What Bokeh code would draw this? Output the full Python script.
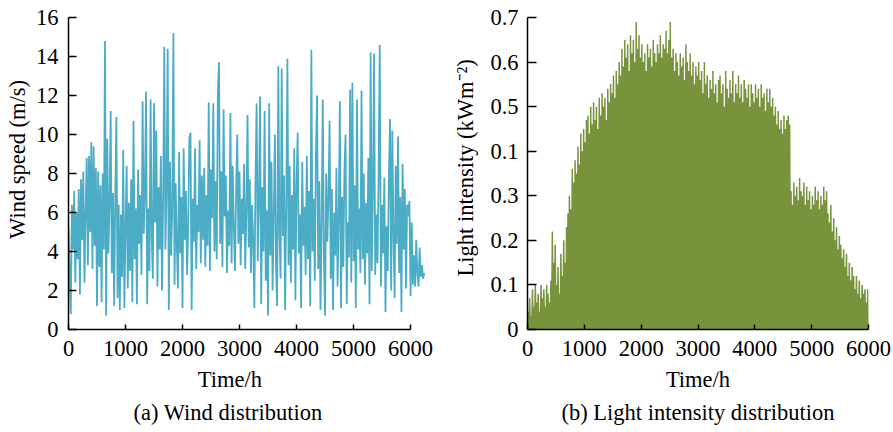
from bokeh.plotting import figure
from bokeh.layouts import row
from bokeh.models import FixedTicker
from bokeh.embed import file_html
from bokeh.resources import INLINE
import numpy as np

# ---------------- data ----------------
WIND_STEP_H = 20  # hours between wind samples
wind_speed = [
    5.2, 3.0, 0.8, 6.4, 4.1, 7.1, 2.4, 6.0, 3.6, 7.2,
    1.8, 7.7, 4.6, 8.1, 2.4, 6.0, 8.8, 3.3, 8.9, 5.0,
    9.6, 3.1, 9.4, 4.3, 8.3, 1.2, 8.1, 3.2, 7.4, 1.4,
    8.0, 4.1, 14.8, 0.7, 9.8, 3.9, 6.5, 11.2, 2.9, 7.0,
    1.2, 6.8, 10.9, 1.6, 6.4, 1.0, 5.9, 2.7, 9.2, 1.1,
    5.1, 8.4, 2.1, 6.5, 3.0, 7.7, 1.4, 10.7, 3.6, 6.2,
    1.3, 8.2, 4.4, 6.9, 2.8, 11.7, 4.9, 7.0, 12.2, 1.3,
    6.2, 3.0, 11.8, 4.7, 2.6, 11.6, 5.5, 10.2, 2.2, 7.3,
    4.1, 8.9, 2.0, 6.6, 14.5, 4.1, 7.3, 14.4, 1.0, 8.6,
    3.8, 6.2, 15.2, 2.3, 7.5, 4.4, 2.1, 9.1, 3.9, 6.8,
    1.1, 9.3, 4.6, 7.1, 2.8, 5.3, 9.8, 10.1, 1.0, 6.7,
    4.5, 9.3, 3.1, 6.4, 5.0, 9.7, 3.4, 7.9, 4.6, 8.3,
    3.2, 6.9, 4.3, 11.65, 3.0, 8.2, 5.7, 11.6, 4.0, 7.6,
    3.6, 12.1, 13.7, 4.4, 8.1, 3.2, 11.3, 5.8, 7.9, 2.9,
    6.1, 4.3, 11.1, 3.4, 8.4, 5.2, 3.0, 7.0, 10.0, 4.4,
    8.1, 3.3, 6.7, 4.9, 8.5, 3.1, 6.0, 11.0, 4.2, 7.7,
    2.9, 6.4, 4.6, 1.1, 7.7, 11.6, 3.5, 6.6, 11.95, 1.3,
    7.3, 4.0, 11.2, 2.5, 6.1, 0.7, 11.6, 3.8, 8.6, 2.0,
    5.9, 10.0, 3.2, 1.2, 13.5, 5.1, 2.6, 13.4, 4.8, 7.9,
    1.0, 6.5, 13.9, 3.3, 8.4, 2.4, 6.9, 4.1, 9.3, 1.5,
    7.4, 10.1, 3.9, 5.9, 1.1, 8.6, 4.3, 6.3, 2.8, 8.9,
    3.6, 7.1, 1.2, 14.35, 4.0, 6.7, 2.5, 9.0, 12.0, 3.1,
    7.6, 1.0, 5.3, 11.8, 3.7, 0.7, 8.0, 4.5, 6.9, 10.7,
    2.6, 7.2, 1.0, 6.0, 3.8, 8.3, 2.2, 5.6, 11.7, 1.1,
    6.8, 3.2, 8.1, 10.0, 1.3, 5.5, 3.7, 12.3, 2.4, 12.65,
    3.5, 7.4, 1.1, 11.8, 4.1, 6.2, 2.9, 12.25, 3.6, 8.0,
    2.3, 6.5, 3.9, 8.8, 1.3, 14.2, 3.0, 7.1, 14.15, 2.8,
    5.9, 3.4, 8.0, 14.6, 2.2, 6.4, 3.9, 7.8, 0.9, 5.3,
    3.0, 7.7, 10.8, 2.0, 10.2, 4.9, 1.6, 8.4, 4.4, 9.9,
    2.9, 6.8, 0.9, 8.5, 4.1, 7.2, 2.1, 6.4, 5.8, 6.6,
    1.7, 5.5, 2.3, 3.8, 2.2, 4.6, 2.9, 2.2, 4.2, 2.7,
    3.3, 2.6, 2.9,
]

LIGHT_STEP_H = 25  # hours per daylight cycle in the plotted series
light_peaks = [
    0.04, 0.07, 0.03, 0.09, 0.05, 0.10, 0.06, 0.08, 0.04, 0.10,
    0.07, 0.09, 0.05, 0.10, 0.08, 0.06, 0.11, 0.22, 0.15, 0.19,
    0.10, 0.14, 0.08, 0.17, 0.12, 0.20, 0.15, 0.23, 0.26, 0.30,
    0.27, 0.36, 0.33, 0.38, 0.35, 0.41, 0.37, 0.44, 0.40, 0.45,
    0.42, 0.47, 0.48, 0.44, 0.50, 0.46, 0.51, 0.47, 0.50, 0.45,
    0.52, 0.48, 0.53, 0.50, 0.52, 0.47, 0.54, 0.51, 0.55, 0.53,
    0.57, 0.52, 0.58, 0.55, 0.60, 0.57, 0.63, 0.59, 0.65, 0.61,
    0.64, 0.58, 0.66, 0.62, 0.65, 0.60, 0.69, 0.63, 0.66, 0.61,
    0.64, 0.60, 0.62, 0.58, 0.64, 0.61, 0.63, 0.59, 0.65, 0.62,
    0.60, 0.64, 0.62, 0.66, 0.61, 0.64, 0.63, 0.67, 0.62, 0.65,
    0.69, 0.61, 0.63, 0.58, 0.62, 0.60, 0.57, 0.62, 0.59, 0.61,
    0.56, 0.64, 0.60, 0.58, 0.62, 0.57, 0.60, 0.55, 0.59, 0.57,
    0.60, 0.56, 0.58, 0.53, 0.60, 0.55, 0.57, 0.52, 0.56, 0.54,
    0.58, 0.53, 0.55, 0.51, 0.56, 0.57, 0.53, 0.55, 0.50, 0.58,
    0.54, 0.52, 0.56, 0.53, 0.58, 0.51, 0.55, 0.53, 0.57, 0.52,
    0.55, 0.51, 0.56, 0.54, 0.52, 0.55, 0.50, 0.55, 0.53, 0.51,
    0.55, 0.52, 0.54, 0.50, 0.55, 0.52, 0.53, 0.49, 0.54, 0.51,
    0.54, 0.50, 0.52, 0.48, 0.50, 0.46, 0.49, 0.45, 0.47, 0.44,
    0.48, 0.45, 0.47, 0.48, 0.46, 0.31, 0.28, 0.33, 0.30, 0.32,
    0.29, 0.34, 0.31, 0.30, 0.33, 0.28, 0.32, 0.29, 0.31, 0.27,
    0.30, 0.28, 0.32, 0.29, 0.31, 0.27, 0.30, 0.28, 0.32, 0.29,
    0.31, 0.26, 0.24, 0.28, 0.22, 0.25, 0.20, 0.23, 0.18, 0.21,
    0.19, 0.16, 0.18, 0.14, 0.17, 0.12, 0.15, 0.11, 0.14, 0.12,
    0.09, 0.12, 0.08, 0.11, 0.07, 0.10, 0.08, 0.09, 0.06, 0.09,
]
NIGHT_VALUE = 0.0

time_ticks = [0, 1000, 2000, 3000, 4000, 5000, 6000]
wind_ticks = [0, 2, 4, 6, 8, 10, 12, 14, 16]
light_ticks = [0, 0.1, 0.2, 0.3, 0.4, 0.5, 0.6, 0.7]
light_tick_labels = ["0", "0.1", "0.2", "0.3", "0.1", "0.5", "0.6", "0.7"]

# ---------------- derived series ----------------
wind_t = np.arange(len(wind_speed)) * WIND_STEP_H
light_x, light_y = [], []
for k, pk in enumerate(light_peaks):
    light_x += [k * LIGHT_STEP_H, k * LIGHT_STEP_H + LIGHT_STEP_H / 2]
    light_y += [NIGHT_VALUE, pk]
light_x.append(len(light_peaks) * LIGHT_STEP_H)
light_y.append(NIGHT_VALUE)

FONT = "Liberation Serif"
FS = "22.5px"
NB = "\u00a0"


def style(p, xtick_in, ytick_in):
    p.toolbar_location = None
    p.outline_line_color = None
    p.xgrid.grid_line_color = None
    p.ygrid.grid_line_color = None
    p.background_fill_color = "white"
    p.border_fill_color = "white"
    for ax in (p.xaxis[0], p.yaxis[0]):
        ax.axis_line_color = "black"
        ax.axis_line_width = 1.5
        ax.major_tick_line_color = "black"
        ax.major_tick_line_width = 1.5
        ax.major_tick_out = 0
        ax.minor_tick_line_color = None
        ax.major_label_text_font = FONT
        ax.major_label_text_font_size = FS
        ax.major_label_text_color = "black"
        ax.axis_label_text_font = FONT
        ax.axis_label_text_font_size = FS
        ax.axis_label_text_font_style = "normal"
        ax.axis_label_text_color = "black"
    p.xaxis[0].major_tick_in = xtick_in
    p.yaxis[0].major_tick_in = ytick_in
    p.xaxis[0].major_label_standoff = 11
    p.xaxis[0].axis_label_standoff = 8
    p.title.text_font = FONT
    p.title.text_font_size = FS
    p.title.text_font_style = "normal"
    p.title.align = "center"
    p.title.text_color = "black"
    p.title.standoff = 7


# ---------------- (a) wind ----------------
p1 = figure(width=440, height=432, output_backend="svg", toolbar_location=None,
            x_range=(0, 6350), y_range=(0, 16),
            title="(a) Wind distribution", title_location="below",
            min_border_left=68, min_border_right=10,
            min_border_top=17, min_border_bottom=101)
p1.line(wind_t, wind_speed, line_color="#4BACC6", line_width=1.8)
style(p1, 5, 8)
p1.xaxis[0].ticker = FixedTicker(ticks=time_ticks)
p1.yaxis[0].ticker = FixedTicker(ticks=wind_ticks)
p1.xaxis[0].bounds = (0, 6000)
p1.yaxis[0].bounds = (0, 16)
p1.xaxis[0].axis_label = "Time/h" + NB * 7
p1.yaxis[0].axis_label = NB * 5 + "Wind speed (m/s)"
p1.yaxis[0].major_label_standoff = 10
p1.yaxis[0].axis_label_standoff = 3
p1.title.align = "left"
p1.title.offset = 65

# ---------------- (b) light ----------------
p2 = figure(width=453, height=432, output_backend="svg", toolbar_location=None,
            x_range=(0, 6000), y_range=(0, 0.7),
            title="(b) Light intensity distribution", title_location="below",
            min_border_left=87, min_border_right=25,
            min_border_top=13, min_border_bottom=103)
p2.line(light_x, light_y, line_color="#77933C", line_width=1.5)
style(p2, 5, 9)
p2.xaxis[0].ticker = FixedTicker(ticks=time_ticks)
p2.yaxis[0].ticker = FixedTicker(ticks=light_ticks)
p2.yaxis[0].major_label_overrides = {t: s for t, s in zip(light_ticks, light_tick_labels)}
p2.xaxis[0].axis_label = "Time/h"
p2.yaxis[0].axis_label = NB * 2 + "Light intensity (kWm\u207b\u00b2)"
p2.yaxis[0].major_label_standoff = 9
p2.yaxis[0].axis_label_standoff = 9

layout = row(p1, p2)
open("out.html", "w").write(file_html(layout, INLINE))
